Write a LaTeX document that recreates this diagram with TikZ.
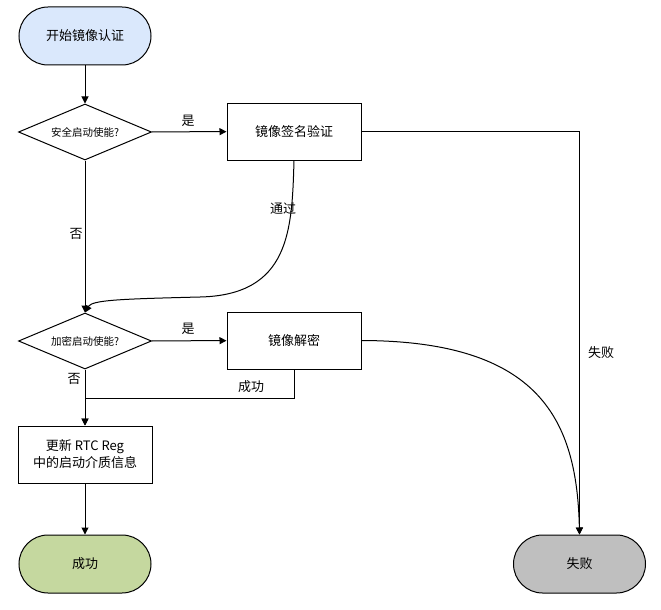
\documentclass[tikz,border=0pt]{standalone}
\usepackage{fontspec}
\setmainfont{Noto Sans CJK SC}
\usepackage{xcolor}
\usetikzlibrary{arrows.meta, shapes.geometric}
\definecolor{startblue}{HTML}{DAE8FC}
\definecolor{okgreen}{HTML}{C5D89F}
\definecolor{failgrey}{HTML}{BFBFBF}

\begin{document}
\begin{tikzpicture}[x=1pt, y=-1pt, >={Triangle[length=7pt, width=7pt]}, line width=1pt,
  terminal/.style={draw, rounded corners=29pt, minimum width=132pt, minimum height=58pt, font=\fontsize{13}{15}\selectfont},
  decision/.style={draw, diamond, aspect=2.375, inner sep=0pt, minimum width=133pt, minimum height=56pt, font=\fontsize{10.5}{12}\selectfont},
  process/.style={draw, fill=white, minimum width=134pt, minimum height=57pt, align=center, font=\fontsize{13}{17}\selectfont},
  lbl/.style={font=\fontsize{13}{15}\selectfont, inner sep=0pt}]
\useasboundingbox (0,0) rectangle (661,610);
\node[terminal, fill=startblue] (start) at (85,36) {开始镜像认证};
\node[decision] (secboot) at (85,132) {安全启动使能?};
\node[process] (verify) at (294,131.5) {镜像签名验证};
\node[decision] (encboot) at (85,341) {加密启动使能?};
\node[process] (decrypt) at (294,340.5) {镜像解密};
\node[process] (update) at (85,454.5) {更新 RTC Reg\\中的启动介质信息};
\node[terminal, fill=okgreen] (ok) at (85,564) {成功};
\node[terminal, fill=failgrey] (fail) at (579.5,564) {失败};
\coordinate (bend) at (200,297);
\coordinate (join) at (85,398);
% straight arrows
\foreach \a/\b in {start/secboot, secboot/encboot, secboot/verify, encboot/decrypt, encboot/update, update/ok}{
    \draw[->] (\a) -- (\b);
}
\draw[->] (verify.east) -| (fail.north);
\draw[->] (verify.south) .. controls (292,230) and (290,295) .. (bend)
    .. controls (120,299) and (92,300) .. (encboot.north);
\draw[->] (decrypt.south) |- (join) -- (update.north);
\draw[->] (decrypt.east) .. controls (540,341) and (577,420) .. (fail.north);
% labels
\node[lbl] (yes1) at (188,121) {是};
\node[lbl] (yes2) at (188,329) {是};
\node[lbl] (no1) at (76,234) {否};
\node[lbl] (no2) at (74,379) {否};
\node[lbl] (pass) at (283,209) {通过};
\node[lbl] (done) at (251,387) {成功};
\node[lbl] (failed) at (601,353) {失败};
\end{tikzpicture}
\end{document}
